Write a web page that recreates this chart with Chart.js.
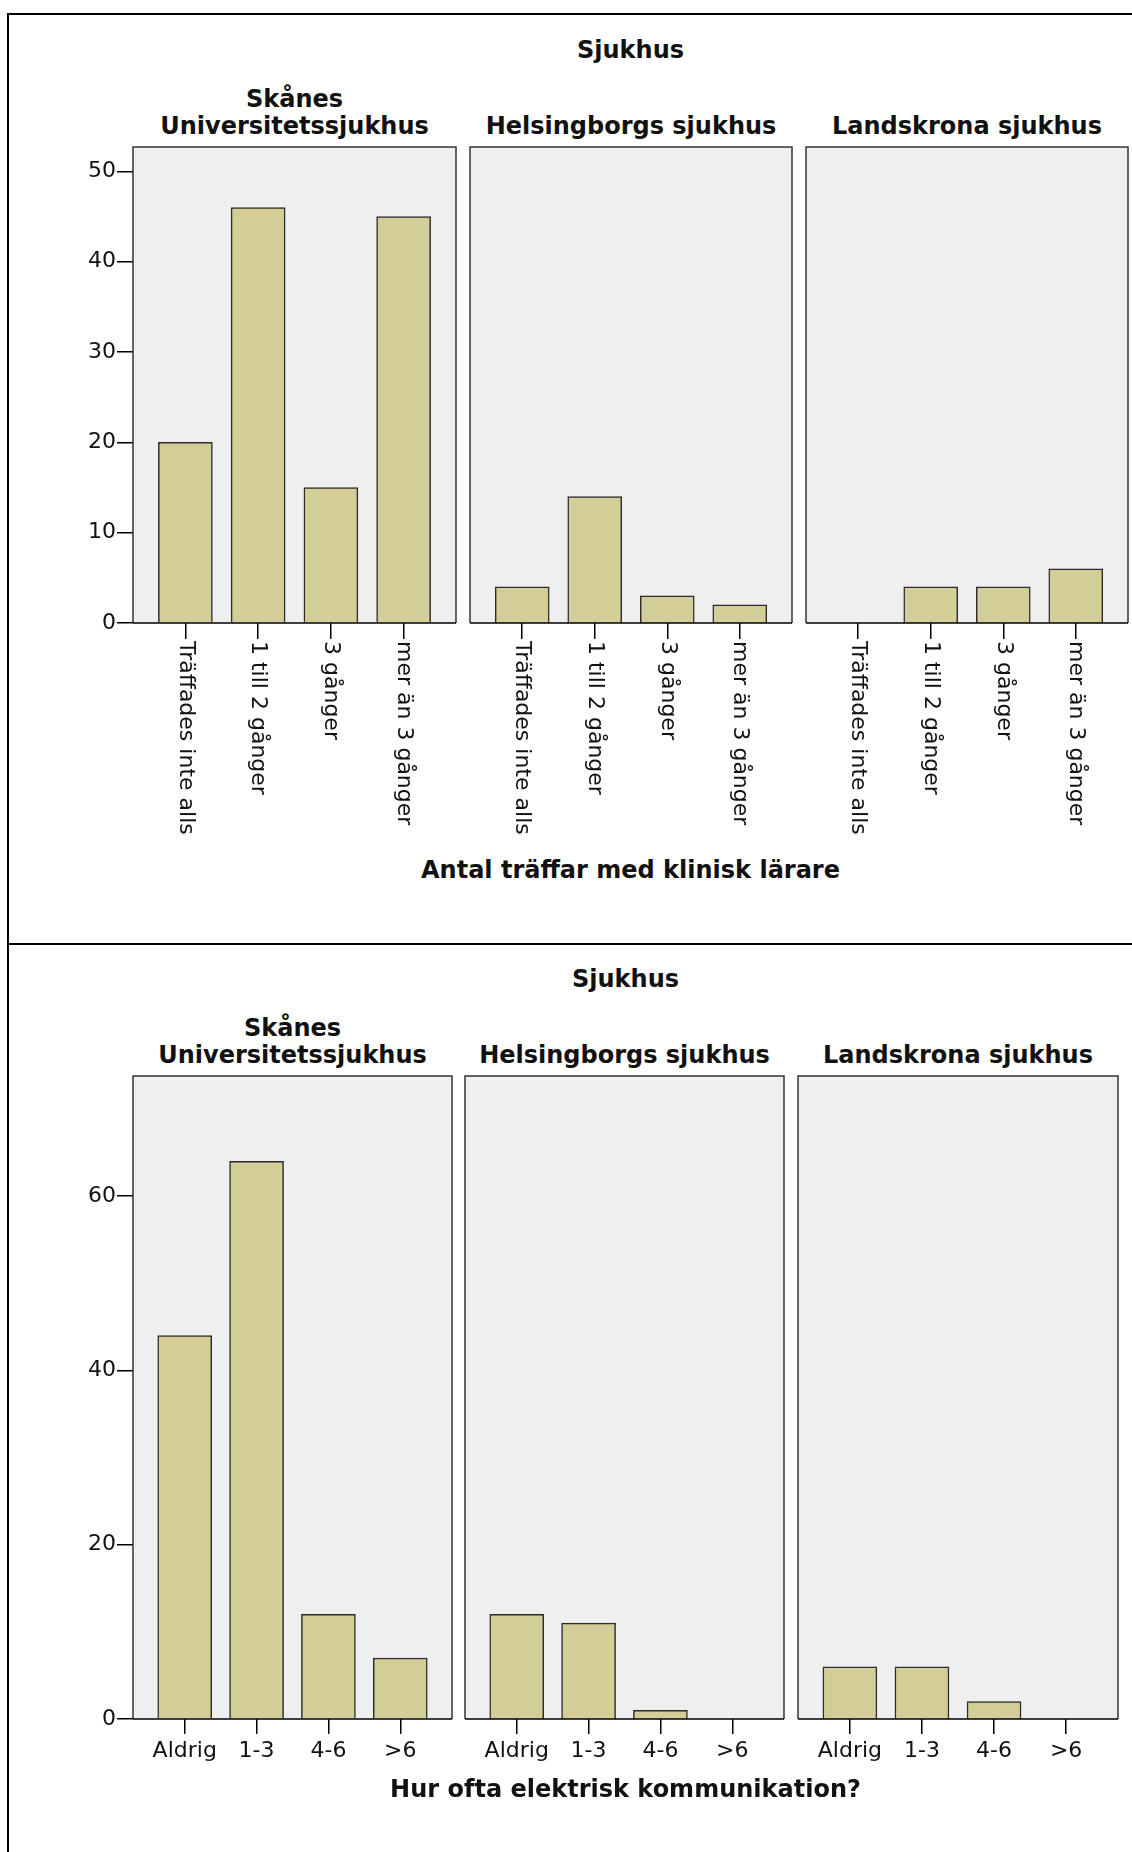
<!DOCTYPE html>
<html>
<head>
<meta charset="utf-8">
<script src="https://cdn.jsdelivr.net/npm/chart.js@4.4.1/dist/chart.umd.min.js"></script>
<style>
  body { margin: 0; background: #fff; width: 1132px; height: 1852px; position: relative; overflow: hidden; }
  .rule { position: absolute; background: #000; }
  .txt { position: absolute; font-family: 'DejaVu Sans', sans-serif; font-weight: bold; color: #111;
         white-space: pre; text-align: center; transform: translateX(-50%); }
  canvas { position: absolute; }
</style>
</head>
<body>
<div class="rule" style="left:7px; top:13px; width:2px; height:1839px"></div>
<div class="rule" style="left:7px; top:13px; width:1125px; height:1.5px"></div>
<div class="rule" style="left:7px; top:943px; width:1125px; height:1.5px"></div>
<script>
// ── Data ──
const hospitals = [['Skånes', 'Universitetssjukhus'], ['Helsingborgs sjukhus'], ['Landskrona sjukhus']];

const meetCategories  = ['Träffades inte alls', '1 till 2 gånger', '3 gånger', 'mer än 3 gånger'];
const meetSkane       = [20, 46, 15, 45];
const meetHelsingborg = [4, 14, 3, 2];
const meetLandskrona  = [0, 4, 4, 6];
const meetTicks       = [0, 10, 20, 30, 40, 50];

const commCategories  = ['Aldrig', '1-3', '4-6', '>6'];
const commSkane       = [44, 64, 12, 7];
const commHelsingborg = [12, 11, 1, 0];
const commLandskrona  = [6, 6, 2, 0];
const commTicks       = [0, 20, 40, 60];

// ── Look ──
const FONT       = "'DejaVu Sans', sans-serif";
const BAR_FILL   = '#D3CE97';
const BAR_EDGE   = '#2b2b2b';
const PANEL_BG   = '#EFEFEF';
const PANEL_EDGE = '#333333';
const X_PAD      = 0.72;   // space inside a panel before first / after last bar, in category units

// page layout of the two figures
const figures = [
  {
    categories: meetCategories, series: [meetSkane, meetHelsingborg, meetLandskrona], yTicks: meetTicks,
    axisTitle: 'Antal träffar med klinisk lärare',
    top: 147, zero: 623, yMax: 52.7, panels: [[133, 456], [470, 792], [806, 1128]],
    axisH: 232, tickLen: 16, rotated: true,
    titleBase: 59, headerBase: 135, axisTitleBase: 879
  },
  {
    categories: commCategories, series: [commSkane, commHelsingborg, commLandskrona], yTicks: commTicks,
    axisTitle: 'Hur ofta elektrisk kommunikation?',
    top: 1076, zero: 1719, yMax: 73.8, panels: [[133, 452], [465, 784], [798, 1118]],
    axisH: 60, tickLen: 15, rotated: false,
    titleBase: 988, headerBase: 1064, axisTitleBase: 1798
  }
];

// ── Plugins ──
const panelFrame = {
  id: 'panelFrame',
  beforeDraw(chart) {
    const a = chart.chartArea, c = chart.ctx;
    c.save();
    c.fillStyle = PANEL_BG;
    c.fillRect(a.left, a.top, a.width, a.height);
    c.restore();
  },
  afterDatasetsDraw(chart) {
    const a = chart.chartArea, c = chart.ctx;
    c.save();
    c.lineWidth = 1.5;
    c.strokeStyle = PANEL_EDGE;
    c.beginPath();
    c.moveTo(a.left, a.bottom); c.lineTo(a.left, a.top);
    c.lineTo(a.right, a.top); c.lineTo(a.right, a.bottom);
    c.stroke();
    c.strokeStyle = '#000';
    c.beginPath();
    c.moveTo(a.left, a.bottom); c.lineTo(a.right, a.bottom);
    c.stroke();
    c.restore();
  }
};

// category labels turned 90° clockwise, reading downwards from the tick
const verticalLabels = {
  id: 'verticalLabels',
  afterDraw(chart, args, opts) {
    if (!opts.labels) return;
    const xs = chart.scales.x, c = chart.ctx;
    c.save();
    c.font = '22px ' + FONT;
    c.fillStyle = '#111';
    c.textAlign = 'left';
    c.textBaseline = 'middle';
    opts.labels.forEach((lab, i) => {
      c.save();
      c.translate(xs.getPixelForValue(i), chart.chartArea.bottom + opts.gap);
      c.rotate(Math.PI / 2);
      c.fillText(lab, 0, 0);
      c.restore();
    });
    c.restore();
  }
};

// ── Helpers ──
function putText(lines, cx, baseline, size, lineH) {
  const d = document.createElement('div');
  d.className = 'txt';
  d.style.fontSize = size + 'px';
  d.style.lineHeight = lineH + 'px';
  const firstBase = baseline - (lines.length - 1) * lineH;
  d.style.top = (firstBase - ((lineH - 1.164 * size) / 2 + 0.928 * size)) + 'px';
  d.style.left = cx + 'px';
  d.textContent = lines.join('\n');
  document.body.appendChild(d);
}

function drawPanel(fig, idx) {
  const [l, r] = fig.panels[idx];
  const first = idx === 0;
  const axisW = first ? 124 : 0;
  const pad = 2;
  const cv = document.createElement('canvas');
  cv.width = (r - l) + axisW + 2 * pad;
  cv.height = (fig.zero - fig.top) + fig.axisH + pad;
  cv.style.left = (l - axisW - pad) + 'px';
  cv.style.top = (fig.top - pad) + 'px';
  document.body.appendChild(cv);

  return new Chart(cv, {
    type: 'bar',
    data: {
      datasets: [{
        data: fig.series[idx].map((v, i) => ({ x: i, y: v })),
        backgroundColor: BAR_FILL,
        borderColor: BAR_EDGE,
        borderWidth: 1.5,
        borderSkipped: 'start',
        barThickness: 54
      }]
    },
    options: {
      responsive: false,
      animation: false,
      events: [],
      layout: { padding: { left: pad, right: pad, top: pad, bottom: 0 } },
      plugins: {
        legend: { display: false },
        tooltip: { enabled: false },
        verticalLabels: fig.rotated ? { labels: fig.categories, gap: fig.tickLen + 2 } : {}
      },
      scales: {
        x: {
          type: 'linear',
          offset: false,
          min: -X_PAD,
          max: fig.categories.length - 1 + X_PAD,
          afterBuildTicks: s => { s.ticks = fig.categories.map((_, i) => ({ value: i })); },
          afterFit: s => { s.height = fig.axisH; s.paddingLeft = 0; s.paddingRight = 0; },
          grid: { offset: false, drawOnChartArea: false, drawTicks: true, tickLength: fig.tickLen, color: '#000', lineWidth: 1.5 },
          border: { display: false },
          ticks: {
            display: !fig.rotated, autoSkip: false, maxRotation: 0, minRotation: 0, padding: 4,
            color: '#111', font: { family: FONT, size: 22 },
            callback: v => fig.categories[v]
          }
        },
        y: {
          display: first,
          min: 0,
          max: fig.yMax,
          afterBuildTicks: s => { s.ticks = fig.yTicks.map(v => ({ value: v })); },
          afterFit: s => { s.width = axisW; s.paddingTop = 0; s.paddingBottom = 0; },
          grid: { drawOnChartArea: false, drawTicks: true, tickLength: 16, color: '#000', lineWidth: 1.5 },
          border: { display: false },
          ticks: { padding: 1, color: '#111', font: { family: FONT, size: 22 } }
        }
      }
    },
    plugins: [panelFrame, verticalLabels]
  });
}

// ── Build ──
figures.forEach(fig => {
  const cx = (fig.panels[0][0] + fig.panels[2][1]) / 2;
  putText(['Sjukhus'], cx, fig.titleBase, 24, 27);
  hospitals.forEach((name, i) => {
    const [l, r] = fig.panels[i];
    putText(name, (l + r) / 2, fig.headerBase, 24, 27);
    drawPanel(fig, i);
  });
  putText([fig.axisTitle], cx, fig.axisTitleBase, 24, 27);
});
</script>
</body>
</html>
